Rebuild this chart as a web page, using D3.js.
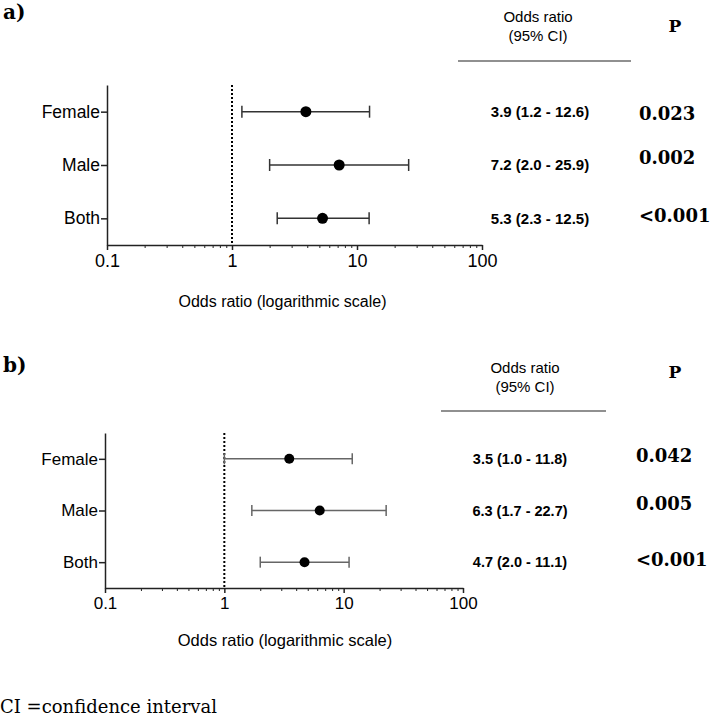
<!DOCTYPE html>
<html>
<head>
<meta charset="utf-8">
<script src="https://cdn.jsdelivr.net/npm/d3@7"></script>
<style>
  body { margin: 0; background: #fff; }
  svg { display: block; }
</style>
</head>
<body>
<div class="forest"></div>
<script>
// shared
const categories = ["Female", "Male", "Both"];
const tickValues = [0.1, 1, 10, 100];

// panel a
const orA = [3.9, 7.2, 5.3];
const lowA = [1.2, 2.0, 2.3];
const highA = [12.6, 25.9, 12.5];
const pA = ["0.023", "0.002", "<0.001"];

// panel b
const orB = [3.5, 6.3, 4.7];
const lowB = [1.0, 1.7, 2.0];
const highB = [11.8, 22.7, 11.1];
const pB = ["0.042", "0.005", "<0.001"];

const sans = "'Liberation Sans', Arial, sans-serif";
const serif = "'DejaVu Serif', serif";

var svg = d3
    .select('.forest')
    .append('svg')
    .attr('width', 712)
    .attr('height', 717)
    .style('background-color', '#fff')

function fmt(v) { return v.toFixed(1) }

function renderPanel(p) {
    var g = svg.append('g')

    var xScale = d3.scaleLog().domain([0.1, 100]).range([p.x0, p.x1])
    var yScale = d3.scalePoint().domain(categories).range([p.top, p.bottom]).padding(0.5)

    var rows = categories.map((c, i) => ({
        label: c, or: p.or[i], low: p.low[i], high: p.high[i], pv: p.pv[i]
    }))

    // panel letter
    g.append('text')
        .attr('x', 3).attr('y', p.letterY)
        .style('font-family', serif).style('font-weight', 'bold').style('font-size', '20px')
        .text(p.letter)

    // minor ticks 2..9 in each decade
    var minor = []
    tickValues.slice(0, -1).forEach(t => { for (let k = 2; k < 10; k++) minor.push(t * k) })
    g.append('g')
        .attr('transform', `translate(0, ${p.bottom})`)
        .call(d3.axisBottom(xScale).tickValues(minor).tickSize(3).tickFormat(''))
        .call(a => a.select('.domain').remove())
        .selectAll('line').attr('stroke', '#222').attr('stroke-width', 1)

    var xAxis = d3.axisBottom(xScale)
        .tickValues(tickValues)
        .tickSize(5)
        .tickSizeOuter(0)
        .tickFormat(d => d3.format('~g')(d))
    var xg = g.append('g').attr('transform', `translate(0, ${p.bottom})`).call(xAxis)
    xg.select('.domain').attr('stroke', '#222').attr('stroke-width', 1.5)
    xg.selectAll('.tick line').attr('stroke', '#222').attr('stroke-width', 1.5)
    xg.selectAll('.tick text')
        .attr('y', 9)
        .attr('fill', '#000')
        .style('font-family', sans).style('font-size', p.tickFont)

    g.append('text')
        .attr('x', (p.x0 + p.x1) / 2 + p.titleDx)
        .attr('y', p.titleY)
        .attr('text-anchor', 'middle')
        .style('font-family', sans).style('font-size', p.titleFont)
        .text('Odds ratio (logarithmic scale)')

    var yAxis = d3.axisLeft(yScale).tickSize(6).tickSizeOuter(0)
    var yg = g.append('g').attr('transform', `translate(${p.x0}, 0)`).call(yAxis)
    yg.select('.domain').attr('stroke', '#222').attr('stroke-width', 1.5)
    yg.selectAll('.tick line').attr('stroke', '#222').attr('stroke-width', 1.5)
    yg.selectAll('.tick text')
        .attr('x', -7)
        .attr('fill', '#000')
        .style('font-family', sans).style('font-size', p.catFont)

    // reference line at OR = 1
    g.append('line')
        .attr('x1', xScale(1)).attr('x2', xScale(1))
        .attr('y1', p.top).attr('y2', p.bottom)
        .attr('stroke', '#000').attr('stroke-width', 2)
        .attr('stroke-dasharray', '2,2')

    var bars = g.selectAll('.ci').data(rows).enter().append('g').attr('class', 'ci')
    bars.append('line')
        .attr('x1', d => xScale(d.low)).attr('x2', d => xScale(d.high))
        .attr('y1', d => yScale(d.label)).attr('y2', d => yScale(d.label))
        .attr('stroke', p.barColor).attr('stroke-width', 1.5)
    bars.append('line')
        .attr('x1', d => xScale(d.low)).attr('x2', d => xScale(d.low))
        .attr('y1', d => yScale(d.label) - p.cap).attr('y2', d => yScale(d.label) + p.cap)
        .attr('stroke', p.barColor).attr('stroke-width', 1.5)
    bars.append('line')
        .attr('x1', d => xScale(d.high)).attr('x2', d => xScale(d.high))
        .attr('y1', d => yScale(d.label) - p.cap).attr('y2', d => yScale(d.label) + p.cap)
        .attr('stroke', p.barColor).attr('stroke-width', 1.5)
    bars.append('circle')
        .attr('cx', d => xScale(d.or)).attr('cy', d => yScale(d.label))
        .attr('r', p.r).attr('fill', '#000')

    // table header
    g.append('text')
        .attr('x', p.headX).attr('y', p.headY)
        .attr('text-anchor', 'middle')
        .style('font-family', sans).style('font-size', '15px')
        .text('Odds ratio')
    g.append('text')
        .attr('x', p.headX).attr('y', p.headY + 19)
        .attr('text-anchor', 'middle')
        .style('font-family', sans).style('font-size', '15px')
        .text('(95% CI)')
    g.append('line')
        .attr('x1', p.ruleX0).attr('x2', p.ruleX1)
        .attr('y1', p.ruleY).attr('y2', p.ruleY)
        .attr('stroke', '#222').attr('stroke-width', 1.2)
    g.append('text')
        .attr('x', 675).attr('y', p.pHeadY)
        .attr('text-anchor', 'middle')
        .style('font-family', serif).style('font-weight', 'bold').style('font-size', '17px')
        .text('P')

    // table rows
    g.selectAll('.ortext').data(rows).enter().append('text')
        .attr('class', 'ortext')
        .attr('x', p.orX)
        .attr('y', d => yScale(d.label))
        .attr('dy', '0.35em')
        .attr('text-anchor', 'middle')
        .style('font-family', sans).style('font-weight', 'bold').style('font-size', p.orFont)
        .text(d => `${fmt(d.or)} (${fmt(d.low)} - ${fmt(d.high)})`)

    g.selectAll('.ptext').data(rows).enter().append('text')
        .attr('class', 'ptext')
        .attr('x', p.pX)
        .attr('y', (d, i) => yScale(d.label) + p.pNudge[i])
        .attr('dy', '0.35em')
        .style('font-family', serif).style('font-weight', 'bold').style('font-size', '18px')
        .text(d => d.pv)
}

renderPanel({
    letter: 'a)', letterY: 19,
    or: orA, low: lowA, high: highA, pv: pA,
    x0: 107, x1: 482, top: 85, bottom: 245,
    tickFont: '18px', titleFont: '16px', catFont: '17.5px', titleY: 307, titleDx: -12,
    barColor: '#333', cap: 6, r: 5.5,
    headX: 538, headY: 22, ruleX0: 458, ruleX1: 631, ruleY: 61, pHeadY: 32,
    orX: 540, orFont: '15px', pX: 639, pNudge: [2, -7, -3]
})

renderPanel({
    letter: 'b)', letterY: 372,
    or: orB, low: lowB, high: highB, pv: pB,
    x0: 105, x1: 463, top: 433, bottom: 588,
    tickFont: '17px', titleFont: '16.5px', catFont: '17px', titleY: 646, titleDx: 1,
    barColor: '#666', cap: 5.5, r: 5,
    headX: 525, headY: 373, ruleX0: 441, ruleX1: 606, ruleY: 411, pHeadY: 378,
    orX: 520, orFont: '14.5px', pX: 636, pNudge: [-3, -7, -2]
})

svg.append('text')
    .attr('x', 0).attr('y', 713)
    .style('font-family', serif).style('font-size', '18px')
    .text('CI =confidence interval')
</script>
</body>
</html>
